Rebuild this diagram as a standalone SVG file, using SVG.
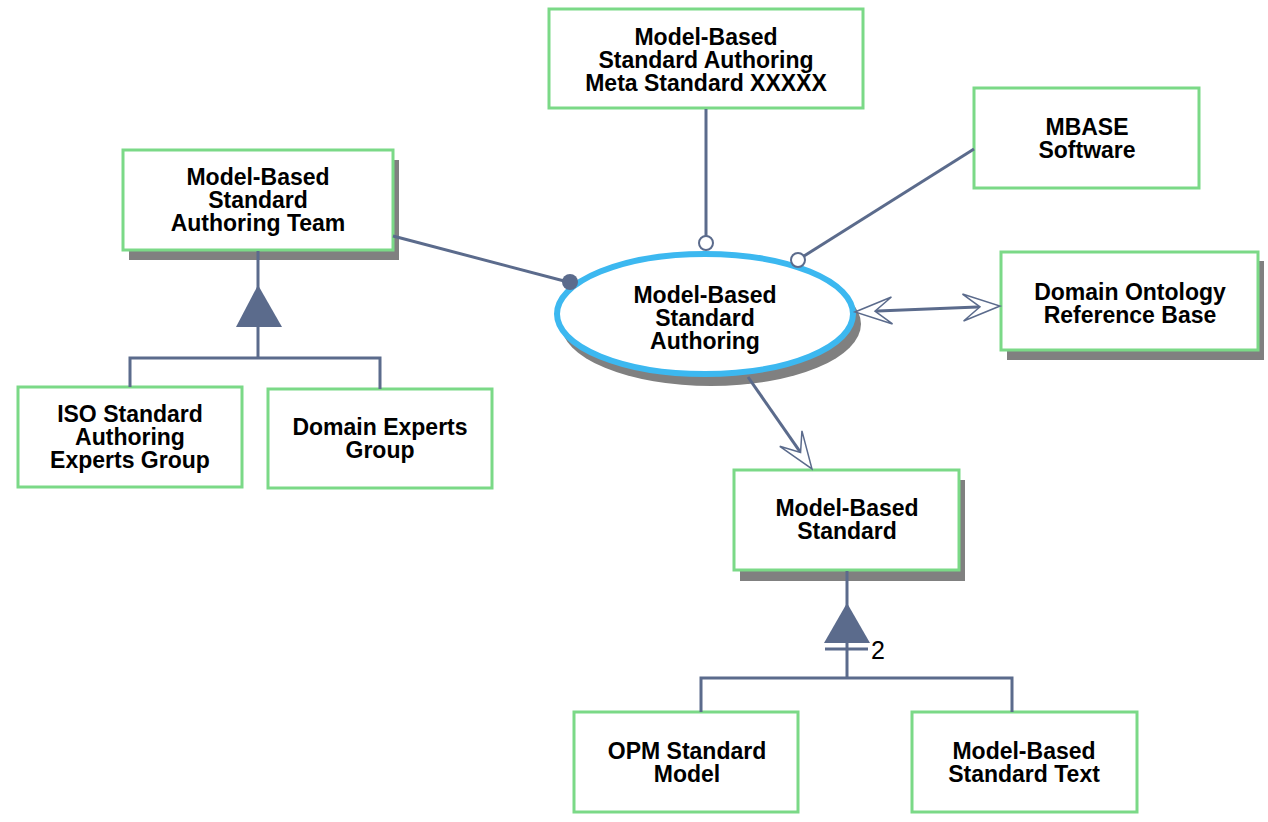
<svg xmlns="http://www.w3.org/2000/svg" width="1268" height="822" viewBox="0 0 1268 822">
<style>
.box{fill:#ffffff;stroke:#7bd987;stroke-width:3}
.shadow{fill:#808080}
.lbl{font-family:"Liberation Sans",Arial,sans-serif;font-weight:bold;font-size:23px;fill:#000;text-anchor:middle}
.ln{stroke:#5b6b8c;stroke-width:3;fill:none}
.tri{fill:#5b6b8c}
.num{font-family:"Liberation Sans",Arial,sans-serif;font-size:25px;fill:#000}
</style>
<defs>
<marker id="open" viewBox="-42 -16 44 32" markerWidth="44" markerHeight="32" refX="-4" refY="0" orient="auto-start-reverse" markerUnits="userSpaceOnUse">
<path d="M-37,-13.5 L0,0 L-37,13.5 L-20,0 Z" fill="#ffffff" stroke="#5b6b8c" stroke-width="1.5" stroke-linejoin="miter"/>
</marker>
</defs>
<rect width="1268" height="822" fill="#ffffff"/>

<g id="meta-standard">
<rect class="box" x="549" y="9" width="314" height="99"/>
<text class="lbl" x="706" y="45">Model-Based</text>
<text class="lbl" x="706" y="68">Standard Authoring</text>
<text class="lbl" x="706" y="91">Meta Standard XXXXX</text>
</g>

<g id="mbase-software">
<rect class="box" x="974" y="88" width="225" height="100"/>
<text class="lbl" x="1087" y="135">MBASE</text>
<text class="lbl" x="1087" y="158">Software</text>
</g>

<g id="authoring-team">
<rect class="shadow" x="129" y="160" width="270" height="100"/>
<rect class="box" x="123" y="150" width="270" height="100"/>
<text class="lbl" x="258" y="185">Model-Based</text>
<text class="lbl" x="258" y="208">Standard</text>
<text class="lbl" x="258" y="231">Authoring Team</text>
</g>

<g id="iso-experts">
<rect class="box" x="18" y="387" width="224" height="100"/>
<text class="lbl" x="130" y="422">ISO Standard</text>
<text class="lbl" x="130" y="445">Authoring</text>
<text class="lbl" x="130" y="468">Experts Group</text>
</g>

<g id="domain-experts">
<rect class="box" x="268" y="389" width="224" height="99"/>
<text class="lbl" x="380" y="435">Domain Experts</text>
<text class="lbl" x="380" y="458">Group</text>
</g>

<g id="authoring-process">
<ellipse class="shadow" cx="711" cy="324" rx="150" ry="62"/>
<ellipse cx="705" cy="314" rx="148" ry="60" fill="#ffffff" stroke="#3cb8f0" stroke-width="6"/>
<text class="lbl" x="705" y="303">Model-Based</text>
<text class="lbl" x="705" y="326">Standard</text>
<text class="lbl" x="705" y="349">Authoring</text>
</g>

<g id="domain-ontology">
<rect class="shadow" x="1007" y="261" width="257" height="99"/>
<rect class="box" x="1001" y="252" width="257" height="98"/>
<text class="lbl" x="1130" y="300">Domain Ontology</text>
<text class="lbl" x="1130" y="323">Reference Base</text>
</g>

<g id="model-based-standard">
<rect class="shadow" x="740" y="480" width="225" height="101"/>
<rect class="box" x="734" y="470" width="225" height="100"/>
<text class="lbl" x="847" y="516">Model-Based</text>
<text class="lbl" x="847" y="539">Standard</text>
</g>

<g id="opm-model">
<rect class="box" x="574" y="712" width="224" height="100"/>
<text class="lbl" x="687" y="759">OPM Standard</text>
<text class="lbl" x="687" y="782">Model</text>
</g>

<g id="standard-text">
<rect class="box" x="912" y="712" width="225" height="100"/>
<text class="lbl" x="1024" y="759">Model-Based</text>
<text class="lbl" x="1024" y="782">Standard Text</text>
</g>

<g id="connectors">
<line class="ln" x1="706" y1="109" x2="706" y2="236"/>
<circle cx="706" cy="243" r="7" fill="#ffffff" stroke="#5b6b8c" stroke-width="2"/>
<line class="ln" x1="974" y1="149" x2="804" y2="256"/>
<circle cx="798" cy="260" r="7" fill="#ffffff" stroke="#5b6b8c" stroke-width="2"/>
<line class="ln" x1="393" y1="236" x2="568" y2="282"/>
<circle cx="570" cy="282" r="8" fill="#5b6b8c"/>
<line class="ln" x1="859" y1="311.8" x2="996" y2="306.2" marker-start="url(#open)" marker-end="url(#open)"/>
<line class="ln" x1="748" y1="377" x2="809.7" y2="465.7" marker-end="url(#open)"/>
<line class="ln" x1="258" y1="251" x2="258" y2="358"/>
<polygon class="tri" points="258,285 236,327 282,327"/>
<path class="ln" d="M130,387 V358 H380 V389"/>
<line class="ln" x1="847" y1="571" x2="847" y2="678"/>
<polygon class="tri" points="847,603 824,643 870,643"/>
<line class="ln" x1="825" y1="649" x2="868" y2="649"/>
<path class="ln" d="M701,712 V678 H1012 V712"/>
<text class="num" x="871" y="659">2</text>
</g>
</svg>
